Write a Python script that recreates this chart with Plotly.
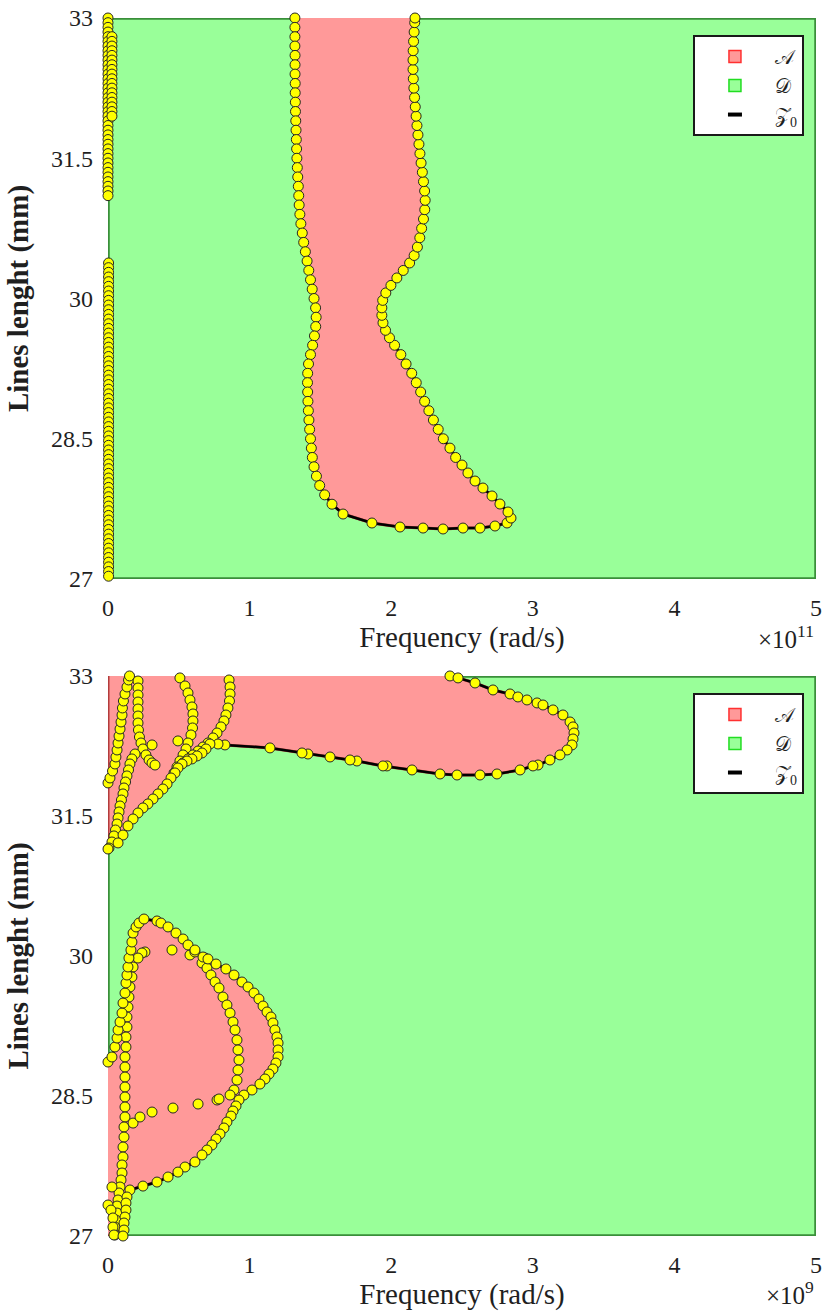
import plotly.graph_objects as go

# ---------------------------------------------------------------- axes / text
FREQ_RANGE = [0.0, 5.0]
LEN_RANGE = [27.0, 33.0]
FREQ_TICKS = [0, 1, 2, 3, 4, 5]
LEN_TICKS = [27, 28.5, 30, 31.5, 33]
LEN_TICK_TEXT = ["27", "28.5", "30", "31.5", "33"]
SCALE_TEXT = ["×10<sup>11</sup>", "×10<sup>9</sup>"]
X_TITLE = "Frequency (rad/s)"
Y_TITLE = "<b>Lines lenght (mm)</b>"
LEGEND_NAMES = ["𝒜", "𝒟", "𝒵<sub>0</sub>"]

# ------------------------------------------- upper panel (frequency in 1e11)
# boundary of the A region: left flank (top -> bottom)
top_left_y = [33.0, 32.9, 32.8, 32.7, 32.6, 32.5, 32.4, 32.3, 32.2, 32.1, 32.0,
              31.9, 31.8, 31.7, 31.6, 31.5, 31.4, 31.3, 31.2, 31.1, 31.0, 30.9,
              30.8, 30.7, 30.6, 30.5, 30.4, 30.3, 30.2, 30.1, 30.0, 29.9, 29.8,
              29.7, 29.6, 29.5, 29.4, 29.3, 29.2, 29.1, 29.0, 28.9, 28.8, 28.7,
              28.6, 28.5, 28.4, 28.3, 28.2, 28.1, 28.0, 27.9, 27.8]
top_left_x = [1.320, 1.320, 1.320, 1.320, 1.321, 1.321, 1.321, 1.322, 1.322,
              1.323, 1.324, 1.326, 1.328, 1.330, 1.332, 1.334, 1.337, 1.340,
              1.344, 1.347, 1.350, 1.355, 1.362, 1.372, 1.382, 1.394, 1.406,
              1.418, 1.430, 1.442, 1.455, 1.466, 1.470, 1.467, 1.458, 1.445,
              1.430, 1.416, 1.410, 1.409, 1.410, 1.412, 1.415, 1.419, 1.424,
              1.430, 1.436, 1.443, 1.455, 1.472, 1.495, 1.530, 1.582]
# lower edge and tip
top_base_x = [1.660, 1.864, 2.062, 2.225, 2.366, 2.507, 2.627, 2.733, 2.818,
              2.846, 2.825, 2.768, 2.712, 2.648, 2.592, 2.542, 2.500]
top_base_y = [27.695, 27.599, 27.556, 27.545, 27.535, 27.545, 27.545, 27.567,
              27.599, 27.652, 27.717, 27.802, 27.888, 27.973, 28.048, 28.134,
              28.219]
# right flank (bottom -> top)
top_right_y = [28.30, 28.40, 28.50, 28.60, 28.70, 28.80, 28.90, 29.00, 29.10,
               29.20, 29.30, 29.40, 29.50, 29.58, 29.66, 29.74, 29.82, 29.90,
               29.98, 30.06, 30.14, 30.22, 30.30, 30.38, 30.46, 30.55, 30.65,
               30.75, 30.85, 30.95, 31.05, 31.15, 31.25, 31.35, 31.45, 31.55,
               31.65, 31.75, 31.85, 31.95, 32.05, 32.15, 32.25, 32.35, 32.45,
               32.55, 32.65, 32.75, 32.85, 32.95, 33.00]
top_right_x = [2.455, 2.415, 2.368, 2.332, 2.298, 2.266, 2.236, 2.208, 2.177,
               2.145, 2.105, 2.068, 2.024, 1.988, 1.960, 1.942, 1.934, 1.934,
               1.940, 1.962, 1.998, 2.040, 2.085, 2.130, 2.162, 2.185, 2.202,
               2.215, 2.228, 2.237, 2.240, 2.236, 2.228, 2.220, 2.211, 2.203,
               2.196, 2.189, 2.182, 2.176, 2.170, 2.165, 2.160, 2.156, 2.154,
               2.154, 2.155, 2.158, 2.162, 2.166, 2.168]
# zero-crossings hugging the vertical axis
top_axis_a_y = [33.00, 32.95, 32.90, 32.85, 32.80, 32.75, 32.70, 32.65, 32.60,
                32.55, 32.50, 32.45, 32.40, 32.35, 32.30, 32.25, 32.20, 32.15,
                32.10, 32.05, 32.00, 31.95, 31.90, 31.85, 31.80, 31.75, 31.70,
                31.65, 31.60, 31.55, 31.50, 31.45, 31.40, 31.35, 31.30, 31.25,
                31.20, 31.15, 31.10]
top_axis_a_x = [0.000, 0.000, 0.000, 0.000, 0.000, 0.000, 0.000, 0.000, 0.000,
                0.000, 0.000, 0.000, 0.000, 0.000, 0.000, 0.000, 0.000, 0.000,
                0.000, 0.000, 0.000, 0.000, 0.000, 0.000, 0.000, 0.000, 0.000,
                0.000, 0.000, 0.000, 0.000, 0.000, 0.000, 0.000, 0.000, 0.000,
                0.000, 0.000, 0.000]
top_axis_b_y = [32.80, 32.75, 32.70, 32.65, 32.60, 32.55, 32.50, 32.45, 32.40,
                32.35, 32.30, 32.25, 32.20, 32.15, 32.10, 32.05, 32.00, 31.95]
top_axis_b_x = [0.028, 0.028, 0.028, 0.028, 0.028, 0.028, 0.028, 0.028, 0.028,
                0.028, 0.028, 0.028, 0.028, 0.028, 0.028, 0.028, 0.028, 0.028]
top_axis_c_y = [30.38, 30.33, 30.28, 30.23, 30.18, 30.13, 30.08, 30.03, 29.98,
                29.93, 29.88, 29.83, 29.78, 29.73, 29.68, 29.63, 29.58, 29.53,
                29.48, 29.43, 29.38, 29.33, 29.28, 29.23, 29.18, 29.13, 29.08,
                29.03, 28.98, 28.93, 28.88, 28.83, 28.78, 28.73, 28.68, 28.63,
                28.58, 28.53, 28.48, 28.43, 28.38, 28.33, 28.28, 28.23, 28.18,
                28.13, 28.08, 28.03, 27.98, 27.93, 27.88, 27.83, 27.78, 27.73,
                27.68, 27.63, 27.58, 27.53, 27.48, 27.43, 27.38, 27.33, 27.28,
                27.23, 27.18, 27.13, 27.08, 27.03]
top_axis_c_x = [0.004, 0.004, 0.004, 0.004, 0.004, 0.004, 0.004, 0.004, 0.004,
                0.004, 0.004, 0.004, 0.004, 0.004, 0.004, 0.004, 0.004, 0.004,
                0.004, 0.004, 0.004, 0.004, 0.004, 0.004, 0.004, 0.004, 0.004,
                0.004, 0.004, 0.004, 0.004, 0.004, 0.004, 0.004, 0.004, 0.004,
                0.004, 0.004, 0.004, 0.004, 0.004, 0.004, 0.004, 0.004, 0.004,
                0.004, 0.004, 0.004, 0.004, 0.004, 0.004, 0.004, 0.004, 0.004,
                0.004, 0.004, 0.004, 0.004, 0.004, 0.004, 0.004, 0.004, 0.004,
                0.004, 0.004, 0.004, 0.004, 0.004]

# -------------------------------------------- lower panel (frequency in 1e9)
# boundary of the upper A region (from the top edge, clockwise, to the axis)
bot_upper_x = [2.415, 2.472, 2.592, 2.719, 2.839, 2.895, 2.959, 3.030, 3.072,
               3.143, 3.213, 3.263, 3.284, 3.291, 3.284, 3.277, 3.242, 3.192,
               3.121, 3.037, 3.001, 2.910, 2.747, 2.627, 2.465, 2.345, 2.147,
               1.970, 1.942, 1.758, 1.709, 1.568, 1.412, 1.370, 1.144, 0.826,
               0.777, 0.720, 0.692, 0.664, 0.629, 0.593, 0.558, 0.523, 0.494,
               0.473, 0.445, 0.417, 0.388, 0.353, 0.318, 0.282, 0.247, 0.212,
               0.177, 0.141, 0.106, 0.071, 0.0]
bot_upper_y = [33.0, 32.979, 32.925, 32.850, 32.807, 32.775, 32.743, 32.711,
               32.689, 32.636, 32.582, 32.507, 32.454, 32.389, 32.325, 32.261,
               32.207, 32.154, 32.100, 32.046, 32.036, 31.993, 31.950, 31.939,
               31.939, 31.950, 31.993, 32.036, 32.036, 32.089, 32.100, 32.132,
               32.164, 32.175, 32.229, 32.261, 32.271, 32.271, 32.218, 32.175,
               32.143, 32.111, 32.089, 32.057, 32.014, 31.961, 31.907, 31.843,
               31.789, 31.736, 31.682, 31.629, 31.586, 31.532, 31.468, 31.393,
               31.296, 31.211, 31.146]
# boundary of the lower A region (from the axis, around the lobe, to the base)
bot_lower_x = [0.0, 0.028, 0.049, 0.064, 0.071, 0.085, 0.099, 0.106, 0.120,
               0.127, 0.134, 0.141, 0.148, 0.162, 0.169, 0.177, 0.198, 0.219,
               0.254, 0.346, 0.374, 0.424, 0.480, 0.530, 0.565, 0.614, 0.671,
               0.706, 0.763, 0.833, 0.890, 0.946, 0.989, 1.031, 1.066, 1.095,
               1.123, 1.151, 1.165, 1.179, 1.193, 1.201, 1.201, 1.201, 1.186,
               1.165, 1.137, 1.109, 1.073, 1.017, 0.960, 0.925, 0.904, 0.883,
               0.869, 0.840, 0.819, 0.791, 0.763, 0.734, 0.699, 0.664, 0.614,
               0.544, 0.494, 0.424, 0.346, 0.247, 0.155, 0.134, 0.127, 0.127,
               0.120, 0.113, 0.113, 0.106]
bot_lower_y = [28.864, 28.918, 29.025, 29.121, 29.207, 29.293, 29.389, 29.496,
               29.603, 29.711, 29.796, 29.882, 29.978, 30.064, 30.150, 30.246,
               30.311, 30.353, 30.396, 30.375, 30.353, 30.311, 30.246, 30.182,
               30.118, 30.064, 29.989, 29.968, 29.914, 29.861, 29.796, 29.721,
               29.668, 29.603, 29.539, 29.464, 29.400, 29.346, 29.282, 29.207,
               29.132, 29.068, 28.993, 28.918, 28.853, 28.789, 28.735, 28.682,
               28.628, 28.564, 28.510, 28.457, 28.393, 28.339, 28.285, 28.221,
               28.157, 28.093, 28.039, 27.975, 27.921, 27.868, 27.793, 27.739,
               27.685, 27.632, 27.578, 27.535, 27.493, 27.418, 27.353, 27.278,
               27.203, 27.139, 27.064, 27.0]
# other zero-crossing branches
branch1_x = [0.0, 0.014, 0.032, 0.049, 0.056, 0.064, 0.071, 0.078, 0.085,
             0.092, 0.099, 0.102, 0.109, 0.120, 0.134, 0.145, 0.152]
branch1_y = [31.854, 31.907, 31.982, 32.057, 32.132, 32.207, 32.282, 32.357,
             32.432, 32.507, 32.582, 32.657, 32.732, 32.807, 32.882, 32.957, 33.0]
branch2_x = [0.212, 0.212, 0.212, 0.212, 0.212, 0.212, 0.212, 0.215, 0.222,
             0.233, 0.247, 0.268, 0.290, 0.311, 0.332, 0.311]
branch2_y = [32.946, 32.871, 32.796, 32.721, 32.646, 32.571, 32.496, 32.421,
             32.346, 32.282, 32.218, 32.154, 32.100, 32.068, 32.046, 32.261]
branch3_x = [0.191, 0.169, 0.155, 0.145, 0.134, 0.124, 0.113, 0.106, 0.095,
             0.085, 0.078, 0.071, 0.064, 0.053, 0.042, 0.028, 0.007, -0.007]
branch3_y = [32.164, 32.111, 32.057, 31.993, 31.929, 31.864, 31.800, 31.736,
             31.671, 31.607, 31.543, 31.479, 31.414, 31.350, 31.286, 31.221,
             31.157, 31.254]
branch4_x = [0.508, 0.544, 0.565, 0.579, 0.593, 0.600, 0.600, 0.597, 0.586,
             0.565, 0.551, 0.530, 0.508, 0.487, 0.466, 0.494]
branch4_y = [32.979, 32.893, 32.818, 32.743, 32.668, 32.593, 32.518, 32.443,
             32.368, 32.282, 32.218, 32.154, 32.089, 32.025, 31.961, 32.304]
branch5_x = [0.855, 0.862, 0.862, 0.858, 0.847, 0.833, 0.819, 0.798, 0.770,
             0.742, 0.706, 0.671, 0.636, 0.600, 0.565, 0.530]
branch5_y = [32.957, 32.882, 32.807, 32.732, 32.657, 32.582, 32.518, 32.454,
             32.389, 32.336, 32.282, 32.239, 32.196, 32.154, 32.111, 32.068]
branch6_x = [0.261, 0.240, 0.212, 0.177, 0.169, 0.155, 0.148, 0.141, 0.134,
             0.134, 0.127, 0.127, 0.120, 0.120, 0.120, 0.120, 0.120, 0.120,
             0.120, 0.113, 0.113, 0.106, 0.106, 0.099, 0.099, 0.092, 0.085,
             0.078, 0.071, 0.064, 0.064, 0.056, 0.049, 0.049]
branch6_y = [30.043, 30.032, 29.978, 29.882, 29.775, 29.668, 29.560, 29.453,
             29.346, 29.239, 29.132, 29.025, 28.918, 28.810, 28.703, 28.596,
             28.489, 28.382, 28.275, 28.168, 28.060, 27.953, 27.846, 27.761,
             27.675, 27.600, 27.525, 27.461, 27.386, 27.321, 27.246, 27.171,
             27.096, 27.011]
branch7_x = [0.028, 0.0, 0.021, 0.035, 0.035, 0.042]
branch7_y = [27.525, 27.332, 27.278, 27.193, 27.096, 27.011]
branch8_x = [0.177, 0.226, 0.311, 0.459, 0.636, 0.770, 0.784]
branch8_y = [28.210, 28.275, 28.328, 28.371, 28.414, 28.457, 28.468]
branch9_x = [0.452, 0.579, 0.614, 0.685, 0.664, 0.699, 0.727, 0.756, 0.784,
             0.812, 0.840, 0.862, 0.883, 0.897, 0.911, 0.918, 0.925, 0.918,
             0.911, 0.890, 0.862]
branch9_y = [30.064, 30.011, 30.043, 29.978, 29.925, 29.871, 29.796, 29.721,
             29.657, 29.560, 29.475, 29.389, 29.293, 29.207, 29.100, 28.993,
             28.885, 28.778, 28.671, 28.564, 28.510]

# ---------------------------------------------------------------- styling
FONT = "Liberation Serif, Times New Roman, serif"
TXT = "#1f1f1f"
COL_A, COL_A_EDGE, COL_A_KEY = "#FF9999", "#B23C3C", "#FF3030"
COL_D, COL_D_EDGE, COL_D_KEY = "#99FF99", "#3A8F3A", "#22DD22"
MARKER = dict(size=10, color="#FFFF00", line=dict(color="#262626", width=1))

fig = go.Figure()


def add_region(xs, ys, fill, edge, xa, ya, width=2):
    fig.add_trace(go.Scatter(x=xs, y=ys, mode="lines", fill="toself",
                             fillcolor=fill, line=dict(color=edge, width=width),
                             hoverinfo="skip", showlegend=False,
                             xaxis=xa, yaxis=ya))


def add_curve(xs, ys, xa, ya):
    fig.add_trace(go.Scatter(x=xs, y=ys, mode="lines",
                             line=dict(color="black", width=2.5),
                             hoverinfo="skip", showlegend=False,
                             xaxis=xa, yaxis=ya))


def add_points(xs, ys, xa, ya):
    fig.add_trace(go.Scatter(x=xs, y=ys, mode="markers", marker=MARKER,
                             cliponaxis=False, hoverinfo="skip",
                             showlegend=False, xaxis=xa, yaxis=ya))


def add_keys(xa, ya, legend):
    styles = [
        dict(symbol="square", size=12, color=COL_A,
             line=dict(color=COL_A_KEY, width=1.5)),
        dict(symbol="square", size=12, color=COL_D,
             line=dict(color=COL_D_KEY, width=1.5)),
        dict(symbol="line-ew", size=10, color="black",
             line=dict(color="black", width=4)),
    ]
    for name, mk in zip(LEGEND_NAMES, styles):
        fig.add_trace(go.Scatter(x=[None], y=[None], mode="markers",
                                 marker=mk, name=name, legend=legend,
                                 xaxis=xa, yaxis=ya))


rect_x = [FREQ_RANGE[0], FREQ_RANGE[1], FREQ_RANGE[1], FREQ_RANGE[0], FREQ_RANGE[0]]
rect_y = [LEN_RANGE[0], LEN_RANGE[0], LEN_RANGE[1], LEN_RANGE[1], LEN_RANGE[0]]

# upper panel
top_zero_x = top_left_x + top_base_x + top_right_x
top_zero_y = top_left_y + top_base_y + top_right_y
add_region(rect_x, rect_y, COL_D, COL_D_EDGE, "x", "y", width=3.5)
add_region(top_zero_x, top_zero_y, COL_A, COL_A_EDGE, "x", "y", width=3)
add_curve(top_zero_x, top_zero_y, "x", "y")
add_points(top_zero_x, top_zero_y, "x", "y")
add_points(top_axis_a_x, top_axis_a_y, "x", "y")
add_points(top_axis_b_x, top_axis_b_y, "x", "y")
add_points(top_axis_c_x, top_axis_c_y, "x", "y")
add_keys("x", "y", "legend")

# lower panel
add_region(rect_x, rect_y, COL_D, COL_D_EDGE, "x2", "y2", width=3.5)
add_region(bot_upper_x + [FREQ_RANGE[0]], bot_upper_y + [LEN_RANGE[1]],
           COL_A, COL_A_EDGE, "x2", "y2", width=3)
add_region(bot_lower_x + [FREQ_RANGE[0]], bot_lower_y + [LEN_RANGE[0]],
           COL_A, COL_A_EDGE, "x2", "y2", width=3)
add_curve(bot_upper_x, bot_upper_y, "x2", "y2")
add_curve(bot_lower_x, bot_lower_y, "x2", "y2")
for bx, by in [(branch1_x, branch1_y), (branch2_x, branch2_y),
               (branch3_x, branch3_y), (branch4_x, branch4_y),
               (branch5_x, branch5_y), (branch6_x, branch6_y),
               (branch7_x, branch7_y), (branch8_x, branch8_y),
               (branch9_x, branch9_y)]:
    add_points(bx, by, "x2", "y2")
add_points(bot_upper_x, bot_upper_y, "x2", "y2")
add_points(bot_lower_x, bot_lower_y, "x2", "y2")
add_keys("x2", "y2", "legend2")

# ---------------------------------------------------------------- layout
tick_font = dict(family=FONT, size=24, color=TXT)
title_font = dict(family=FONT, size=29, color=TXT)


def xaxis(anchor):
    return dict(range=FREQ_RANGE, anchor=anchor, tickvals=FREQ_TICKS,
                showgrid=False, zeroline=False, showline=False, ticks="",
                automargin=False, tickfont=tick_font, ticklabelstandoff=12,
                title=dict(text=X_TITLE, font=title_font, standoff=5))


def yaxis(anchor, domain):
    return dict(range=LEN_RANGE, anchor=anchor, domain=domain,
                tickvals=LEN_TICKS, ticktext=LEN_TICK_TEXT,
                showgrid=False, zeroline=False, showline=False, ticks="",
                automargin=False, tickfont=tick_font, ticklabelstandoff=14,
                title=dict(text=Y_TITLE, font=title_font, standoff=13))


def legend(y):
    return dict(x=0.983, y=y, xanchor="right", yanchor="top",
                bgcolor="white", bordercolor="#1a1a1a", borderwidth=2,
                font=dict(family=FONT, size=20, color=TXT),
                itemwidth=70, tracegroupgap=0)


fig.update_layout(
    width=828, height=1311,
    margin=dict(l=108, r=12, t=18, b=75, autoexpand=False),
    paper_bgcolor="white", plot_bgcolor="white",
    xaxis=xaxis("y"), yaxis=yaxis("x", [0.5394, 1.0]),
    xaxis2=xaxis("y2"), yaxis2=yaxis("x2", [0.0, 0.4598]),
    legend=legend(0.986), legend2=legend(0.4458),
    annotations=[
        dict(text=SCALE_TEXT[0], xref="paper", yref="paper", x=1.0, y=0.4918,
             xanchor="right", yanchor="middle", showarrow=False,
             font=dict(family=FONT, size=25, color=TXT)),
        dict(text=SCALE_TEXT[1], xref="paper", yref="paper", x=1.0, y=-0.0468,
             xanchor="right", yanchor="middle", showarrow=False,
             font=dict(family=FONT, size=25, color=TXT)),
    ],
)

fig.write_html("out.html")
